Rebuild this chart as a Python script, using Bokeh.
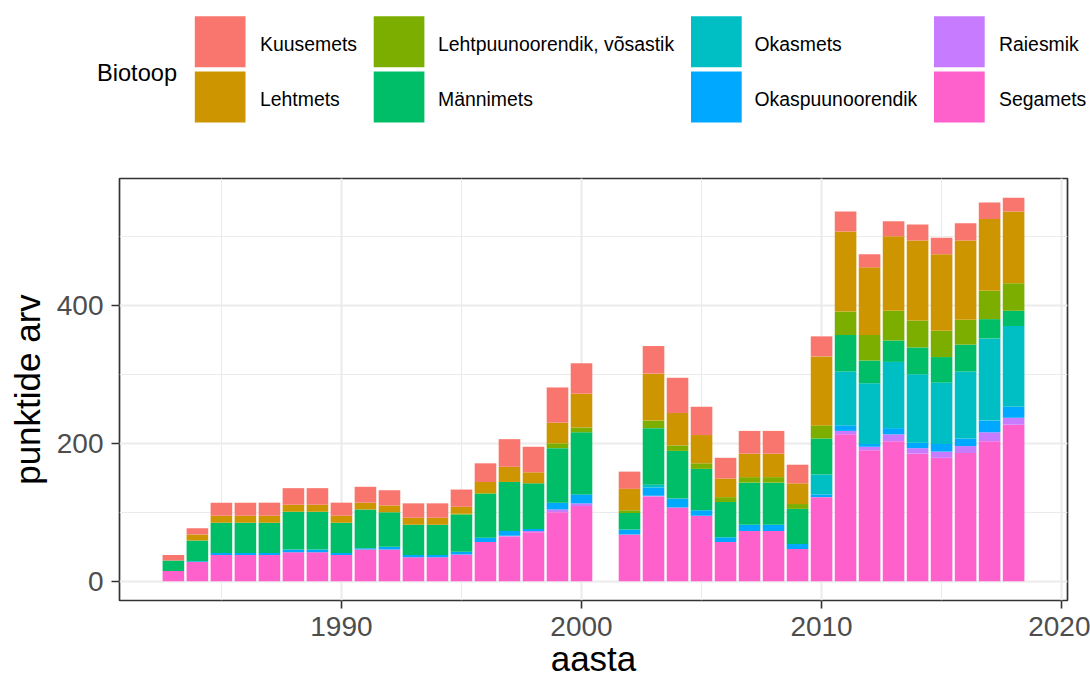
from bokeh.plotting import figure
from bokeh.layouts import column
from bokeh.models import Range1d, SingleIntervalTicker, ColumnDataSource
from bokeh.embed import file_html
from bokeh.resources import INLINE
from bokeh.core.properties import value

years = [1983, 1984, 1985, 1986, 1987, 1988, 1989, 1990, 1991, 1992, 1993, 1994,
         1995, 1996, 1997, 1998, 1999, 2000, 2002, 2003, 2004, 2005, 2006, 2007,
         2008, 2009, 2010, 2011, 2012, 2013, 2014, 2015, 2016, 2017, 2018]

segamets = [15, 28, 38, 38, 38, 42, 42, 38, 46, 46, 35, 35, 39, 57, 65, 71, 100, 109,
            68, 123, 107, 95, 57, 73, 73, 47, 122, 213, 190, 203, 185, 179, 186, 203, 227]
raiesmik = [0, 0, 0, 0, 0, 0, 0, 0, 0, 0, 0, 0, 0, 0, 1, 2, 4, 4,
            0, 1, 0, 0, 0, 0, 0, 0, 0, 5, 5, 10, 8, 9, 10, 13, 10]
okaspuunoorendik = [0, 1, 3, 3, 3, 4, 4, 3, 2, 4, 3, 3, 4, 6, 7, 3, 10, 13,
                    7, 12, 13, 8, 7, 9, 9, 7, 4, 8, 4, 9, 8, 11, 11, 17, 16]
okasmets = [0, 0, 0, 0, 0, 0, 0, 0, 0, 0, 0, 0, 0, 0, 0, 0, 0, 0,
            0, 4, 0, 0, 0, 0, 0, 0, 29, 78, 88, 96, 99, 89, 97, 119, 117]
mannimets = [15, 30, 44, 44, 44, 55, 55, 44, 56, 50, 44, 44, 54, 64, 71, 66, 79, 90,
             24, 82, 69, 60, 51, 61, 61, 51, 52, 53, 33, 31, 39, 37, 39, 28, 22]
lehtpuunoorendik = [0, 0, 0, 0, 0, 0, 0, 0, 0, 0, 0, 0, 1, 1, 0, 0, 7, 7,
                    4, 11, 8, 8, 7, 8, 8, 7, 19, 34, 37, 43, 39, 38, 36, 41, 40]
lehtmets = [0, 9, 10, 10, 10, 10, 10, 10, 10, 10, 10, 10, 10, 16, 22, 16, 30, 49,
            31, 68, 47, 41, 27, 34, 34, 30, 100, 116, 98, 108, 116, 111, 115, 104, 104]
kuusemets = [8, 9, 19, 19, 19, 24, 24, 19, 23, 22, 21, 21, 25, 27, 40, 37, 51, 44,
             25, 40, 51, 41, 30, 33, 33, 27, 29, 29, 19, 22, 23, 24, 25, 24, 20]

# legend order (alphabetical, as in the reference legend)
legend_names = ["Kuusemets", "Lehtmets", "Lehtpuunoorendik, võsastik", "Männimets",
                "Okasmets", "Okaspuunoorendik", "Raiesmik", "Segamets"]
legend_colors = ["#F8766D", "#CD9600", "#7CAE00", "#00BE67",
                 "#00BFC4", "#00A9FF", "#C77CFF", "#FF61CC"]

# stacking order: bottom first
stack_keys = ["Segamets", "Raiesmik", "Okaspuunoorendik", "Okasmets", "Männimets",
              "Lehtpuunoorendik, võsastik", "Lehtmets", "Kuusemets"]
stack_values = [segamets, raiesmik, okaspuunoorendik, okasmets, mannimets,
                lehtpuunoorendik, lehtmets, kuusemets]
color_of = dict(zip(legend_names, legend_colors))

FONT = "Liberation Sans"

# ---------- legend strip ----------
LW, LH = 1090, 148
leg = figure(frame_width=LW, frame_height=LH, x_range=Range1d(0, LW), y_range=Range1d(LH, 0),
             output_backend="svg", toolbar_location=None, min_border=0)
leg.frame_align = False
leg.axis.visible = False
leg.grid.visible = False
leg.outline_line_color = None

col_key_left = [194.3, 373.2, 690.5, 933.5]
col_lab_left = [259.5, 437.5, 754.0, 998.5]
row_top = [15.7, 71.0]
key_w, key_h = 50.7, 51.0
row_mid = [43.5, 98.5]

kl, kr, kt, kb, kc, tx, ty, tt = [], [], [], [], [], [], [], []
for i, (name, col) in enumerate(zip(legend_names, legend_colors)):
    c, r = i // 2, i % 2
    kl.append(col_key_left[c]); kr.append(col_key_left[c] + key_w)
    kt.append(row_top[r]); kb.append(row_top[r] + key_h); kc.append(col)
    tx.append(col_lab_left[c]); ty.append(row_mid[r]); tt.append(name)
leg.quad(left=kl, right=kr, top=kt, bottom=kb, fill_color=kc, line_color=None)
leg.text(x=tx, y=ty, text=tt, text_font=value(FONT), text_font_size="19.4px",
         text_baseline="middle", text_align="left", text_color="#000000")
leg.text(x=[96.5], y=[72.0], text=["Biotoop"], text_font=value(FONT),
         text_font_size="23.6px", text_baseline="middle", text_align="left",
         text_color="#000000")

# ---------- main chart ----------
data = {"aasta": years}
for k, v in zip(stack_keys, stack_values):
    data[k] = v
src = ColumnDataSource(data)

p = figure(frame_width=948, frame_height=422,
           x_range=Range1d(1980.755, 2020.245), y_range=Range1d(-27.8, 583.8),
           output_backend="svg", toolbar_location=None,
           min_border_left=119, min_border_right=23, min_border_top=30,
           min_border_bottom=80)
p.frame_align = False
p.vbar_stack(stack_keys, x="aasta", width=0.9, source=src,
             color=[color_of[k] for k in stack_keys], line_color=None)

p.xaxis.ticker = SingleIntervalTicker(interval=10, num_minor_ticks=2)
p.yaxis.ticker = SingleIntervalTicker(interval=200, num_minor_ticks=2)

for ax in (p.xaxis[0], p.yaxis[0]):
    ax.axis_line_color = None
    ax.major_tick_line_color = "#333333"
    ax.major_tick_line_width = 1.6
    ax.major_tick_out = 8
    ax.major_tick_in = 0
    ax.minor_tick_line_color = None
    ax.major_label_text_font = FONT
    ax.major_label_text_font_size = "28px"
    ax.major_label_text_color = "#4D4D4D"
    ax.axis_label_text_font = FONT
    ax.axis_label_text_font_size = "35px"
    ax.axis_label_text_font_style = "normal"
    ax.axis_label_text_color = "#000000"

p.xaxis.axis_label = "aasta"
p.yaxis.axis_label = "punktide arv"
p.xaxis.major_label_standoff = 8
p.xaxis.axis_label_standoff = 0
p.yaxis.major_label_standoff = 8
p.yaxis.axis_label_standoff = 7

p.grid.grid_line_color = "#EBEBEB"
p.grid.grid_line_width = 2.1
p.grid.minor_grid_line_color = "#EBEBEB"
p.grid.minor_grid_line_width = 1.1
p.outline_line_color = "#333333"
p.outline_line_width = 1.7
p.background_fill_color = "#FFFFFF"
p.border_fill_color = "#FFFFFF"

layout = column(leg, p, spacing=0)
open("out.html", "w").write(file_html(layout, INLINE))
